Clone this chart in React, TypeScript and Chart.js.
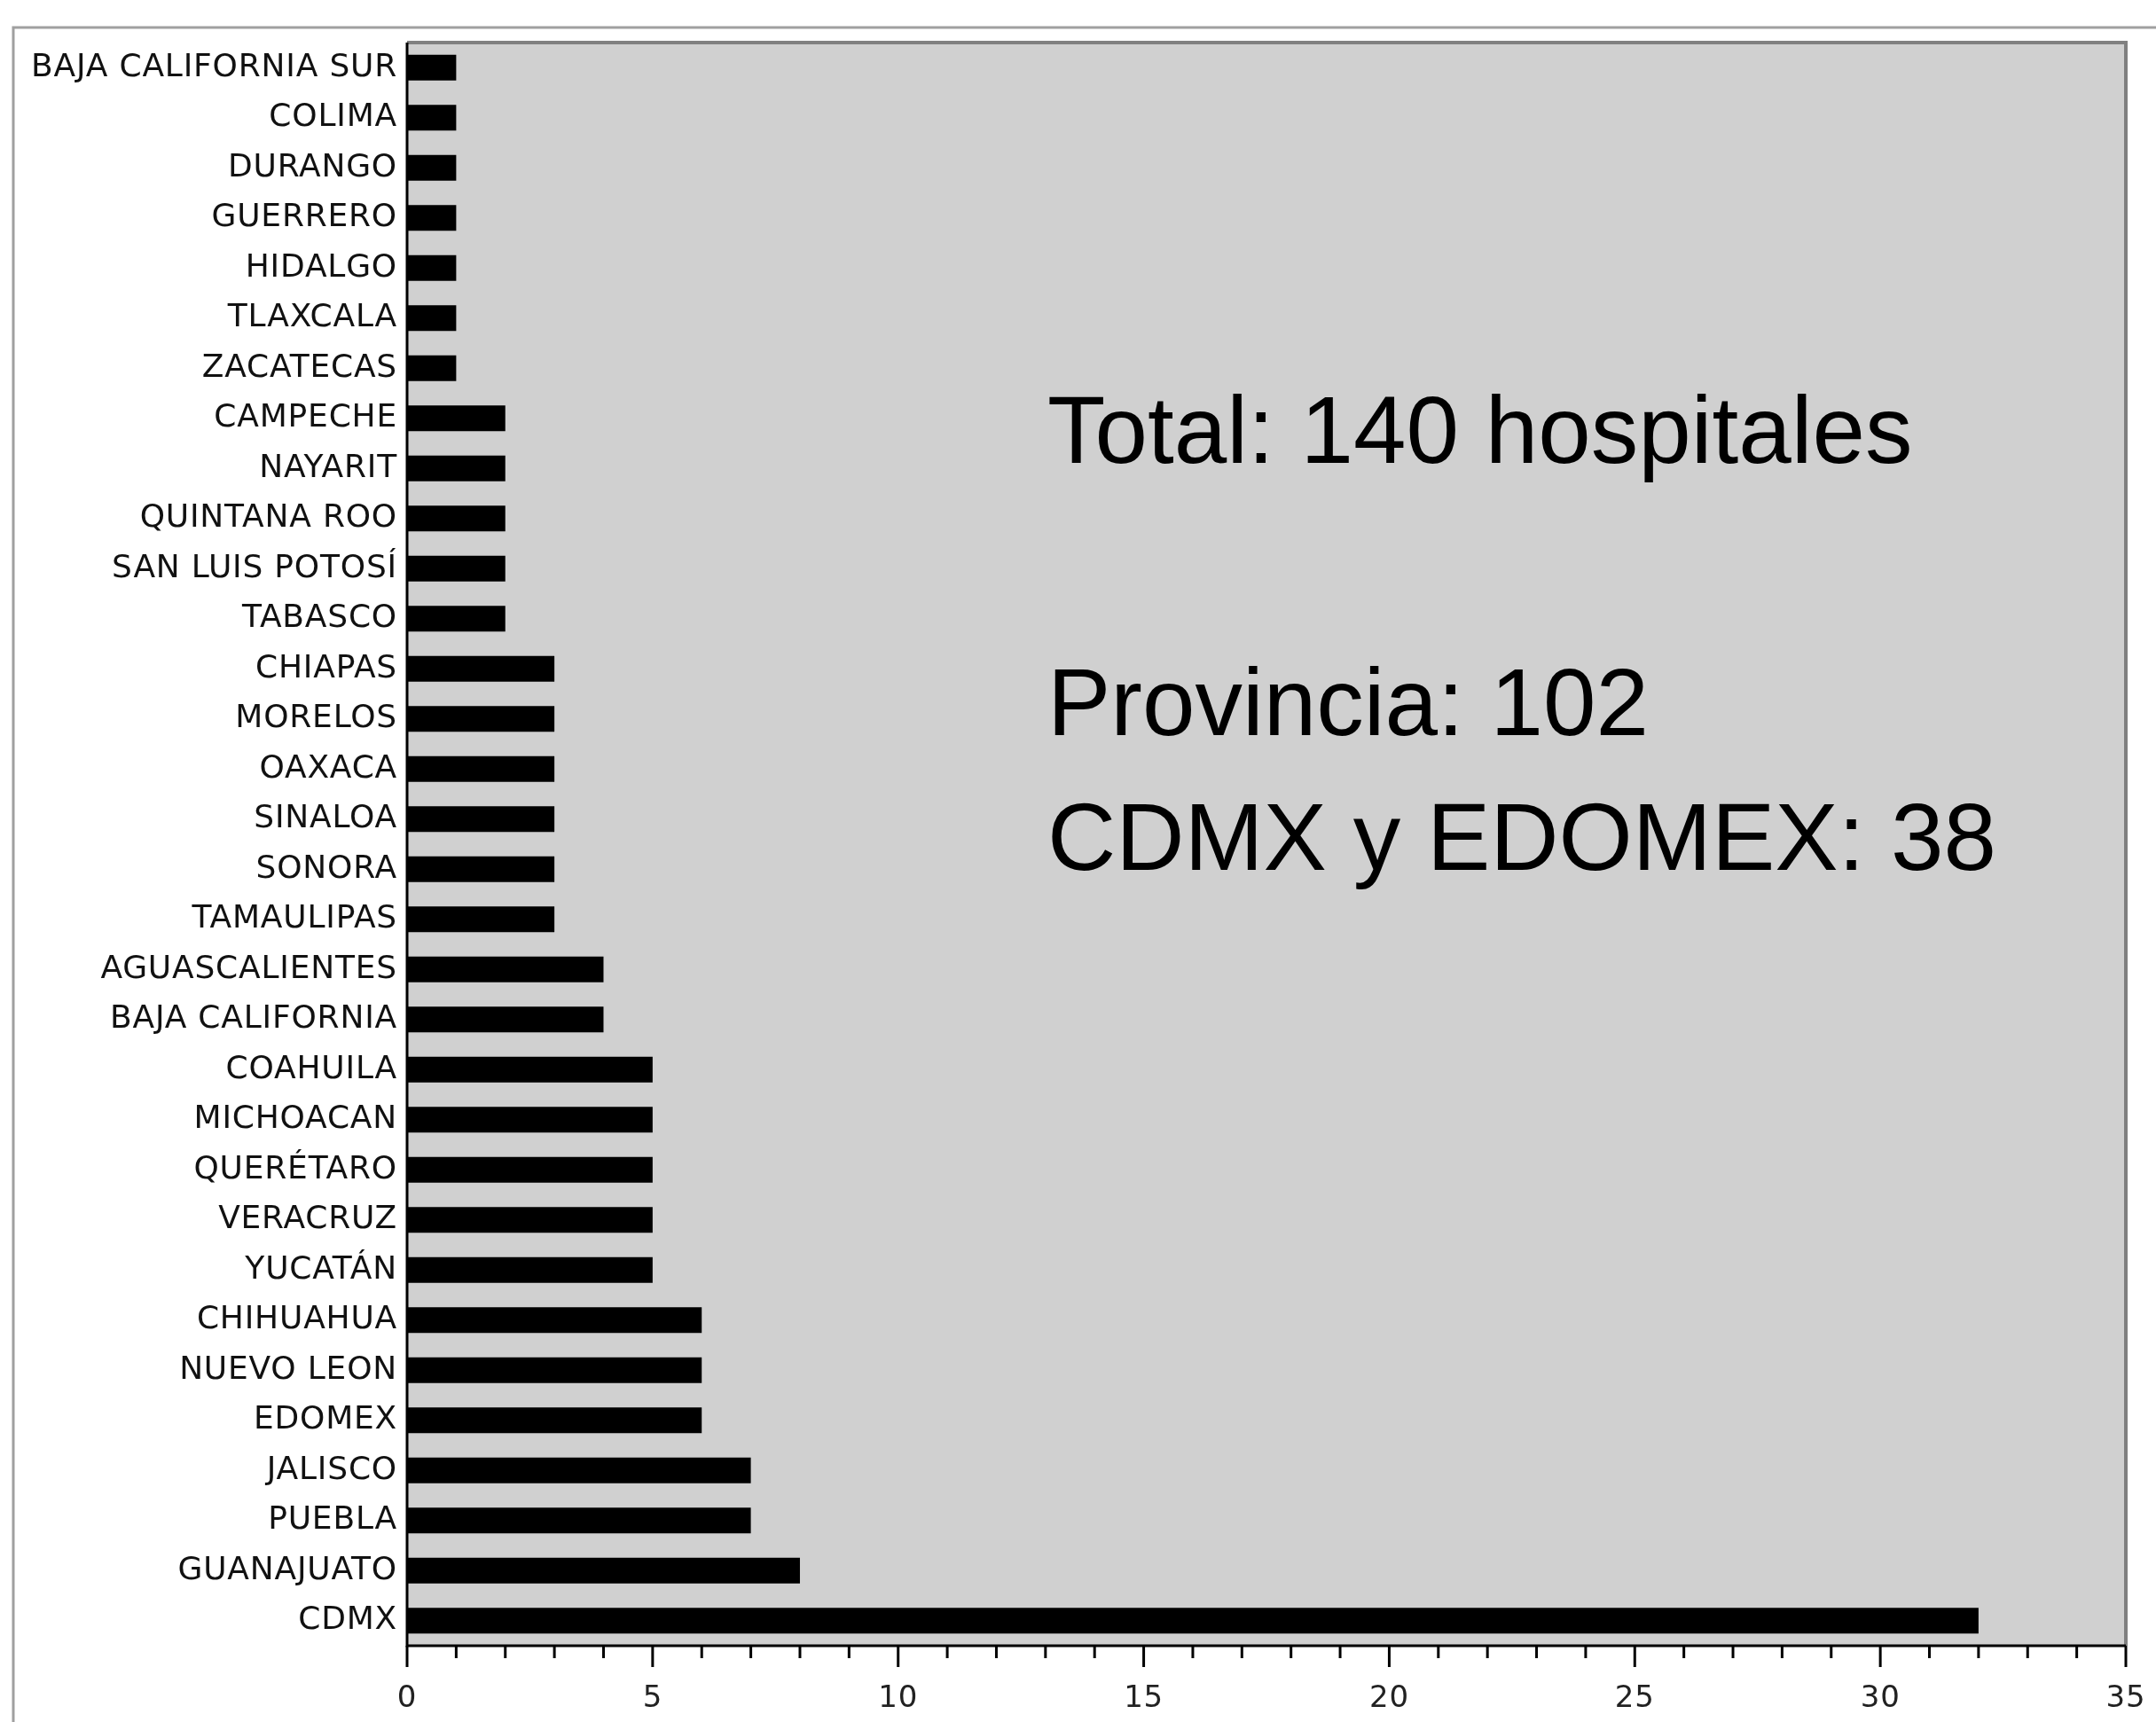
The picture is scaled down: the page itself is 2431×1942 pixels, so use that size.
import React, { useEffect, useRef } from 'react';
import { Chart, registerables } from 'chart.js';

Chart.register(...registerables);

const states: string[] = [
  'BAJA CALIFORNIA SUR', 'COLIMA', 'DURANGO', 'GUERRERO', 'HIDALGO', 'TLAXCALA', 'ZACATECAS',
  'CAMPECHE', 'NAYARIT', 'QUINTANA ROO', 'SAN LUIS POTOSÍ', 'TABASCO',
  'CHIAPAS', 'MORELOS', 'OAXACA', 'SINALOA', 'SONORA', 'TAMAULIPAS',
  'AGUASCALIENTES', 'BAJA CALIFORNIA',
  'COAHUILA', 'MICHOACAN', 'QUERÉTARO', 'VERACRUZ', 'YUCATÁN',
  'CHIHUAHUA', 'NUEVO LEON', 'EDOMEX',
  'JALISCO', 'PUEBLA', 'GUANAJUATO', 'CDMX',
];

const hospitals: number[] = [
  1, 1, 1, 1, 1, 1, 1,
  2, 2, 2, 2, 2,
  3, 3, 3, 3, 3, 3,
  4, 4,
  5, 5, 5, 5, 5,
  6, 6, 6,
  7, 7, 8, 32,
];

const xMin = 0;
const xMax = 35;
const majorStep = 5;
const minorStep = 1;

const noteLines: string[] = ['Total: 140 hospitales', 'Provincia: 102', 'CDMX y EDOMEX: 38'];
const noteBaselines: number[] = [522, 829, 981];

const W = 2431;
const H = 1942;
const AREA = { left: 459, right: 2397, top: 48, bottom: 1856 };

const decorPlugin = {
  id: 'decor',
  beforeDraw(chart: any) {
    const { ctx, chartArea } = chart;
    ctx.save();
    ctx.fillStyle = '#ffffff';
    ctx.fillRect(0, 0, W, H);
    ctx.strokeStyle = '#a0a0a0';
    ctx.lineWidth = 3;
    ctx.strokeRect(15, 31, W + 20, H + 20);
    ctx.fillStyle = '#d0d0d0';
    ctx.fillRect(chartArea.left, chartArea.top, chartArea.right - chartArea.left, chartArea.bottom - chartArea.top);
    ctx.restore();
    (ctx as any).letterSpacing = '0.8px';
  },
  afterDraw(chart: any) {
    const { ctx, chartArea, scales } = chart;
    const xs = scales.x;
    ctx.save();
    (ctx as any).letterSpacing = '0px';
    ctx.strokeStyle = '#808080';
    ctx.lineWidth = 4;
    ctx.beginPath();
    ctx.moveTo(chartArea.left, chartArea.top);
    ctx.lineTo(chartArea.right, chartArea.top);
    ctx.lineTo(chartArea.right, chartArea.bottom);
    ctx.stroke();
    ctx.strokeStyle = '#000000';
    ctx.lineWidth = 3;
    ctx.beginPath();
    ctx.moveTo(chartArea.left, chartArea.top);
    ctx.lineTo(chartArea.left, chartArea.bottom);
    ctx.lineTo(chartArea.right, chartArea.bottom);
    ctx.stroke();
    ctx.lineWidth = 3;
    for (let v = xMin; v <= xMax; v += minorStep) {
      const px = xs.getPixelForValue(v);
      const len = v % majorStep === 0 ? 24 : 14;
      ctx.beginPath();
      ctx.moveTo(px, chartArea.bottom);
      ctx.lineTo(px, chartArea.bottom + len);
      ctx.stroke();
    }
    ctx.fillStyle = '#000000';
    ctx.font = '107px "Liberation Sans", Arial, sans-serif';
    ctx.textAlign = 'left';
    ctx.textBaseline = 'alphabetic';
    const tx = chartArea.left + 0.3725 * (chartArea.right - chartArea.left);
    noteLines.forEach((line, i) => {
      ctx.fillText(line, tx, noteBaselines[i]);
    });
    ctx.restore();
  },
};

export default function App() {
  const ref = useRef<HTMLCanvasElement | null>(null);

  useEffect(() => {
    document.body.style.margin = '0';
    const canvas = ref.current;
    if (!canvas) return;
    const chart = new Chart(canvas, {
      type: 'bar',
      data: {
        labels: states,
        datasets: [
          {
            data: hospitals,
            backgroundColor: '#000000',
            borderWidth: 0,
            barPercentage: 0.51,
            categoryPercentage: 1,
          },
        ],
      },
      options: {
        indexAxis: 'y',
        animation: false,
        responsive: false,
        devicePixelRatio: 1,
        layout: { padding: { left: 0, top: AREA.top, right: W - AREA.right, bottom: 0 } },
        plugins: { legend: { display: false }, tooltip: { enabled: false } },
        scales: {
          x: {
            type: 'linear',
            min: xMin,
            max: xMax,
            position: 'bottom',
            grid: { display: false, drawTicks: false },
            border: { display: false },
            ticks: {
              stepSize: majorStep,
              padding: 40,
              color: '#222222',
              font: { family: '"DejaVu Sans", sans-serif', size: 34 },
              maxRotation: 0,
            },
            afterFit: (scale: any) => {
              scale.height = H - AREA.bottom;
              scale.paddingLeft = 0;
              scale.paddingRight = 0;
            },
          },
          y: {
            type: 'category',
            grid: { display: false, drawTicks: false },
            border: { display: false },
            ticks: {
              padding: 11,
              color: '#111111',
              autoSkip: false,
              font: { family: '"DejaVu Sans", sans-serif', size: 36 },
            },
            afterFit: (scale: any) => {
              scale.width = AREA.left;
              scale.paddingTop = 0;
              scale.paddingBottom = 0;
            },
          },
        },
      },
      plugins: [decorPlugin],
    });
    return () => chart.destroy();
  }, []);

  return <canvas ref={ref} width={W} height={H} style={{ display: 'block', width: W, height: H }} />;
}
